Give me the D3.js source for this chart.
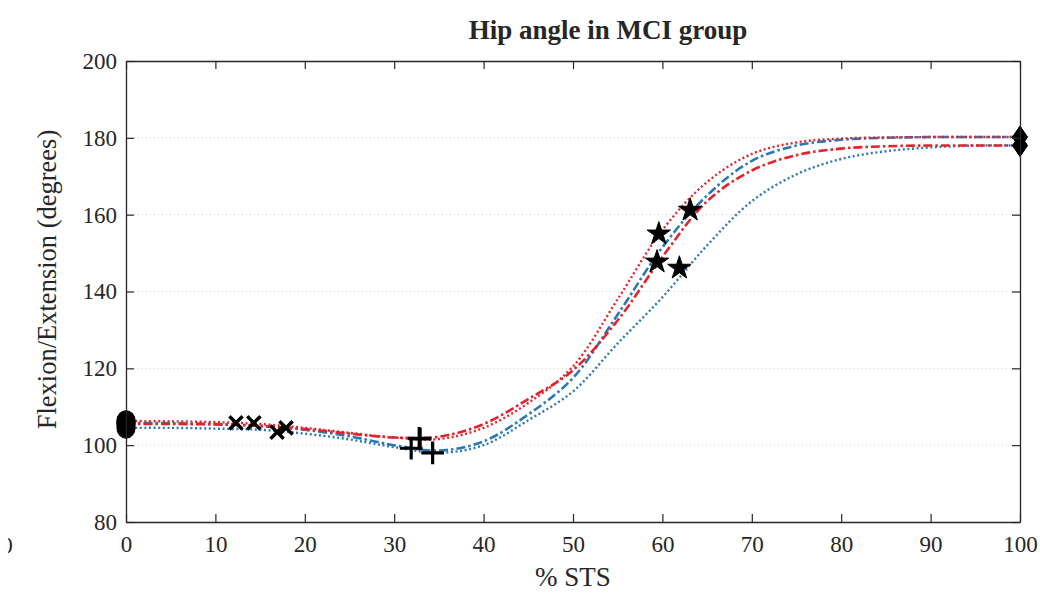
<!DOCTYPE html>
<html>
<head>
<meta charset="utf-8">
<script src="https://cdn.jsdelivr.net/npm/d3@7"></script>
<style>
  html, body { margin: 0; padding: 0; background: #fff; }
  svg { display: block; }
  text { font-family: "Liberation Serif", "Times New Roman", serif; fill: #262626; }
</style>
</head>
<body>
<svg id="chart" width="1040" height="596"></svg>
<script>
// % of sit-to-stand cycle at which each curve is sampled
const stsPercent = [0, 5, 10, 15, 20, 25, 30, 35, 40, 45, 50, 55, 60, 65, 70, 75, 80, 85, 90, 95, 100];

// Hip flexion/extension angle (degrees) for each trial
const redDotted  = [106.3, 106.2, 106.0, 105.5, 104.5, 103.2, 102.0, 101.6, 104.5, 111.0, 120.5, 138.0, 156.0, 168.5, 175.8, 178.8, 179.8, 180.1, 180.2, 180.2, 180.2];
const redDashDot = [105.5, 105.5, 105.4, 105.0, 104.2, 103.0, 102.0, 102.2, 105.5, 112.0, 119.5, 132.5, 149.0, 163.5, 171.5, 175.5, 177.2, 177.8, 178.0, 178.0, 178.0];
const blueDashed = [105.8, 105.7, 105.5, 105.0, 104.0, 102.3, 100.0, 98.6, 101.0, 108.0, 117.5, 134.0, 151.5, 165.0, 174.0, 178.0, 179.5, 180.0, 180.2, 180.2, 180.2];
const blueDotted = [104.5, 104.5, 104.3, 104.0, 103.0, 101.5, 99.5, 98.0, 100.0, 106.5, 114.0, 126.5, 138.5, 152.0, 163.5, 170.5, 174.5, 176.5, 177.5, 178.0, 178.0];

// Event markers: [% STS, angle]
const startPoints  = [[0, 106.3], [0, 105.8], [0, 105.5], [0, 104.5]];
const crossPoints  = [[12.3, 105.8], [14.3, 105.8], [16.9, 103.4], [17.9, 104.5]];
const plusPoints   = [[32.8, 101.8], [32.9, 101.6], [31.9, 99.2], [34.3, 98.0]];
const starPoints   = [[59.6, 155.0], [59.4, 147.7], [61.9, 146.1], [63.1, 161.2]];
const endPoints    = [[100, 180.2], [100, 180.2], [100, 178.0], [100, 178.0]];

// Axis ticks
const xTicks = [0, 10, 20, 30, 40, 50, 60, 70, 80, 90, 100];
const yTicks = [80, 100, 120, 140, 160, 180, 200];

const titleText  = "Hip angle in MCI group";
const xLabelText = "% STS";
const yLabelText = "Flexion/Extension (degrees)";

const RED = "#e2232c";
const BLUE = "#2a78b3";
const SERIF = "'Liberation Serif', 'Times New Roman', serif";

const svg = d3.select("#chart");
const plot = { left: 126, right: 1020, top: 61, bottom: 522 };

const x = d3.scaleLinear().domain([0, 100]).range([plot.left, plot.right]);
const y = d3.scaleLinear().domain([80, 200]).range([plot.bottom, plot.top]);

// horizontal dotted grid
svg.append("g")
  .selectAll("line")
  .data(yTicks.filter(v => v > 80 && v < 200))
  .join("line")
  .attr("x1", plot.left).attr("x2", plot.right)
  .attr("y1", d => y(d)).attr("y2", d => y(d))
  .attr("stroke", "#cfcfcf")
  .attr("stroke-width", 1)
  .attr("stroke-dasharray", "1,3");

// curves
const line = d3.line()
  .x(d => x(d[0]))
  .y(d => y(d[1]))
  .curve(d3.curveCatmullRom.alpha(0.5));

const series = [
  { values: blueDotted, color: BLUE, dash: "2,2.6", width: 2.4 },
  { values: blueDashed, color: BLUE, dash: "9,3,2.5,3", width: 2.6 },
  { values: redDashDot, color: RED,  dash: "9,3,2.5,3", width: 2.6 },
  { values: redDotted,  color: RED,  dash: "2,2.6", width: 2.4 }
];

const curves = svg.append("g");
series.forEach(s => {
  curves.append("path")
    .datum(stsPercent.map((p, i) => [p, s.values[i]]))
    .attr("d", line)
    .attr("fill", "none")
    .attr("stroke", s.color)
    .attr("stroke-width", s.width)
    .attr("stroke-dasharray", s.dash);
});

// tall diamond used for the end-of-movement markers
const tallDiamond = {
  draw(ctx, size) {
    const h = Math.sqrt(size) * 0.75, w = h * 0.68;
    ctx.moveTo(0, -h); ctx.lineTo(w, 0); ctx.lineTo(0, h); ctx.lineTo(-w, 0); ctx.closePath();
  }
};

const markers = svg.append("g");
function drawMarkers(points, type, size, filled, strokeWidth, stretch = 1) {
  markers.append("g")
    .selectAll("path")
    .data(points)
    .join("path")
    .attr("transform", d => `translate(${x(d[0])},${y(d[1])}) scale(1,${stretch})`)
    .attr("d", d3.symbol().type(type).size(size))
    .attr("fill", filled ? "#000" : "none")
    .attr("stroke", "#000")
    .attr("stroke-width", strokeWidth)
    .attr("stroke-linejoin", "miter");
}
drawMarkers(startPoints, d3.symbolCircle, 260, true, 1, 1.12);
drawMarkers(crossPoints, d3.symbolTimes, 115, false, 3.4);
drawMarkers(plusPoints, d3.symbolPlus, 170, false, 3.2);
drawMarkers(starPoints, d3.symbolStar, 170, true, 1);
drawMarkers(endPoints, tallDiamond, 210, true, 1);

// axes (box with inward ticks)
const tickLen = 8;
const styleAxis = g => {
  g.attr("font-family", SERIF);
  g.select(".domain").attr("stroke", "#262626").attr("stroke-width", 1.3);
  g.selectAll(".tick line").attr("stroke", "#262626").attr("stroke-width", 1.2);
  g.selectAll("text")
    .style("font-family", SERIF)
    .style("font-size", "23px")
    .attr("fill", "#333");
};

svg.append("g")
  .attr("transform", `translate(0,${plot.bottom})`)
  .call(d3.axisBottom(x).tickValues(xTicks).tickSizeInner(-tickLen).tickSizeOuter(0).tickPadding(14))
  .call(styleAxis);

svg.append("g")
  .attr("transform", `translate(0,${plot.top})`)
  .call(d3.axisTop(x).tickValues(xTicks).tickSizeInner(-tickLen).tickSizeOuter(0).tickFormat(""))
  .call(styleAxis);

svg.append("g")
  .attr("transform", `translate(${plot.left},0)`)
  .call(d3.axisLeft(y).tickValues(yTicks).tickSizeInner(-tickLen).tickSizeOuter(0).tickPadding(9))
  .call(styleAxis);

svg.append("g")
  .attr("transform", `translate(${plot.right},0)`)
  .call(d3.axisRight(y).tickValues(yTicks).tickSizeInner(-tickLen).tickSizeOuter(0).tickFormat(""))
  .call(styleAxis);

// a stray tick label, its left half cut off by the figure edge
svg.append("clipPath").attr("id", "edgeClip")
  .append("rect").attr("x", 8).attr("y", 520).attr("width", 20).attr("height", 50);
svg.append("text")
  .attr("x", 7).attr("y", 553)
  .attr("text-anchor", "middle")
  .attr("clip-path", "url(#edgeClip)")
  .style("font-family", SERIF)
  .style("font-size", "23px")
  .attr("fill", "#555")
  .text("0");

// title and axis labels
svg.append("text")
  .attr("x", 608).attr("y", 39)
  .attr("text-anchor", "middle")
  .style("font-family", SERIF)
  .style("font-size", "27px")
  .style("font-weight", "bold")
  .attr("fill", "#111")
  .text(titleText);

svg.append("text")
  .attr("x", (plot.left + plot.right) / 2).attr("y", 586)
  .attr("text-anchor", "middle")
  .style("font-family", SERIF)
  .style("font-size", "27px")
  .attr("fill", "#333")
  .text(xLabelText);

svg.append("text")
  .attr("transform", `translate(56,${(plot.top + plot.bottom) / 2 - 12}) rotate(-90)`)
  .attr("text-anchor", "middle")
  .style("font-family", SERIF)
  .style("font-size", "26.5px")
  .attr("fill", "#333")
  .text(yLabelText);
</script>
</body>
</html>
